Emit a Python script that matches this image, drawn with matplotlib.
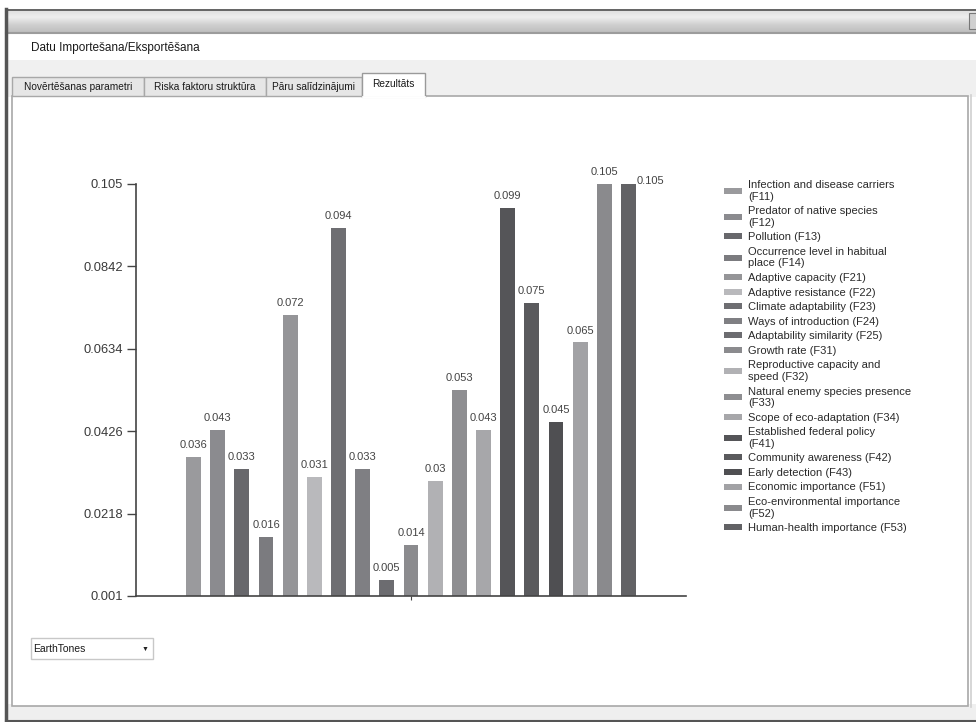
import matplotlib.pyplot as plt
from matplotlib.patches import Rectangle
from matplotlib.colors import LinearSegmentedColormap
import numpy as np

plt.rcParams['font.family'] = ['Liberation Sans', 'DejaVu Sans']

# data
factors = ["Infection and disease carriers\n(F11)", "Predator of native species\n(F12)",
           "Pollution (F13)", "Occurrence level in habitual\nplace (F14)",
           "Adaptive capacity (F21)", "Adaptive resistance (F22)",
           "Climate adaptability (F23)", "Ways of introduction (F24)",
           "Adaptability similarity (F25)", "Growth rate (F31)",
           "Reproductive capacity and\nspeed (F32)", "Natural enemy species presence\n(F33)",
           "Scope of eco-adaptation (F34)", "Established federal policy\n(F41)",
           "Community awareness (F42)", "Early detection (F43)",
           "Economic importance (F51)", "Eco-environmental importance\n(F52)",
           "Human-health importance (F53)"]
values = [0.036, 0.043, 0.033, 0.016, 0.072, 0.031, 0.094, 0.033, 0.005, 0.014,
          0.03, 0.053, 0.043, 0.099, 0.075, 0.045, 0.065, 0.105, 0.105]
colors = ["#9a9a9d", "#8b8b8f", "#68686c", "#7b7b7f", "#959598", "#b9b9bc",
          "#6e6e72", "#7f7f83", "#6c6c70", "#8b8b8e", "#b1b1b4", "#8e8e91",
          "#a7a7aa", "#555558", "#5a5a5d", "#4f4f52", "#a2a2a5", "#8a8a8d", "#626265"]
y_ticks = [0.001, 0.0218, 0.0426, 0.0634, 0.0842, 0.105]
tabs = ["Novērtēšanas parametri", "Riska faktoru struktūra", "Pāru salīdzinājumi", "Rezultāts"]
tab_edges = [12, 144, 266, 362, 425]
palette_name = "EarthTones"
form_title = "Datu Importešana/Eksportēšana"

W, H = 976, 722
fig = plt.figure(figsize=(W / 100, H / 100), dpi=100)

# ---- window chrome, drawn in pixel coordinates ----
bg = fig.add_axes([0, 0, 1, 1])
bg.set_xlim(0, W)
bg.set_ylim(H, 0)
bg.axis('off')

bar_cmap = LinearSegmentedColormap.from_list('titlebar', ['#dcdcdc', '#eeeeee', '#cfcfcf', '#bdbdbd'])
grad = np.linspace(0, 1, 50).reshape(-1, 1)
bg.imshow(grad, cmap=bar_cmap, extent=(6, W, 33, 9), aspect='auto', zorder=1)
bg.plot([6, W], [9.5, 9.5], color='#505050', lw=1.2, zorder=2)
bg.plot([6, W], [32.5, 32.5], color='#9c9c9c', lw=1.5, zorder=2)
bg.add_patch(Rectangle((969, 13), 8, 16, facecolor='#d0d0d0', edgecolor='#777777', lw=0.8, zorder=2))

bg.add_patch(Rectangle((8, 60), W - 8, 37, facecolor='#f0f0f0', edgecolor='none', zorder=1))
bg.add_patch(Rectangle((8, 704), W - 8, 17, facecolor='#efefef', edgecolor='none', zorder=1))
bg.plot([6, 6], [9, H], color='#555555', lw=2.5, zorder=3)
bg.plot([6, W], [721, 721], color='#555555', lw=1.5, zorder=3)
bg.add_patch(Rectangle((12, 95.5), 956, 610.5, facecolor='white', edgecolor='#a8a8a8', lw=1.2, zorder=2))
bg.plot([970.5, 970.5], [95, 707], color='#d0d0d0', lw=1.2, zorder=2)

bg.text(31, 48, form_title, fontsize=8.5, color='#1a1a1a', va='center', ha='left', zorder=3)

for i, name in enumerate(tabs):
    x0, x1 = tab_edges[i], tab_edges[i + 1]
    if i == len(tabs) - 1:
        bg.add_patch(Rectangle((x0, 73), x1 - x0, 24, facecolor='white', edgecolor='#9a9a9a', lw=1, zorder=4))
        bg.plot([x0 + 1, x1 - 1], [96.5, 96.5], color='white', lw=2, zorder=5)
        bg.text((x0 + x1) / 2, 84, name, fontsize=7.3, ha='center', va='center', color='#1a1a1a', zorder=5)
    else:
        bg.add_patch(Rectangle((x0, 77), x1 - x0, 18.5, facecolor='#e6e6e6', edgecolor='#a8a8a8', lw=1, zorder=3))
        bg.text((x0 + x1) / 2, 87, name, fontsize=7.3, ha='center', va='center', color='#1a1a1a', zorder=4)

bg.add_patch(Rectangle((31, 638), 122, 21, facecolor='white', edgecolor='#c8c8c8', lw=1, zorder=3))
bg.text(33, 648.5, palette_name, fontsize=7.5, va='center', ha='left', color='#1a1a1a', zorder=4)
bg.text(145, 649, '▼', fontsize=5, va='center', ha='center', color='#222222', zorder=4)

# ---- the chart ----
ax = fig.add_axes([136 / W, (H - 596) / H, 550 / W, 412 / H])
ax.set_facecolor('none')
x = np.arange(len(values))
bars = ax.bar(x, values, width=0.62, color=colors, edgecolor='none')
ax.set_xlim(-2.38, 20.38)
ax.set_ylim(y_ticks[0], y_ticks[-1])
ax.set_yticks(y_ticks)
ax.set_yticklabels([f"{t:g}" for t in y_ticks])
ax.set_xticks([(len(values) - 1) / 2])
ax.set_xticklabels([''])
ax.tick_params(axis='y', length=6.5, width=1, color='#444444', labelsize=9.3, labelcolor='#3a3a3a', pad=3)
ax.tick_params(axis='x', length=3, width=0.8, color='#444444')
for s in ['top', 'right']:
    ax.spines[s].set_visible(False)
for s in ['left', 'bottom']:
    ax.spines[s].set_color('#444444')
    ax.spines[s].set_linewidth(1.2)

labels = ax.bar_label(bars, labels=[f"{v:g}" for v in values], padding=5,
                      fontsize=8, color='#444444', clip_on=False)
# the last label sits beside its bar in the original
labels[-1].xyann = (5.6, 2.5)
labels[-1].set_ha('left')
labels[-1].set_va('center')

fig.legend(bars.patches, factors, loc='upper left', bbox_to_anchor=(724 / W, 1 - 180 / H),
           frameon=False, fontsize=8, labelspacing=0.41, handlelength=1.6, handleheight=0.45,
           handletextpad=0.6, borderpad=0, borderaxespad=0, labelcolor='#2a2a2a')

fig.savefig('out.png', dpi=100)
